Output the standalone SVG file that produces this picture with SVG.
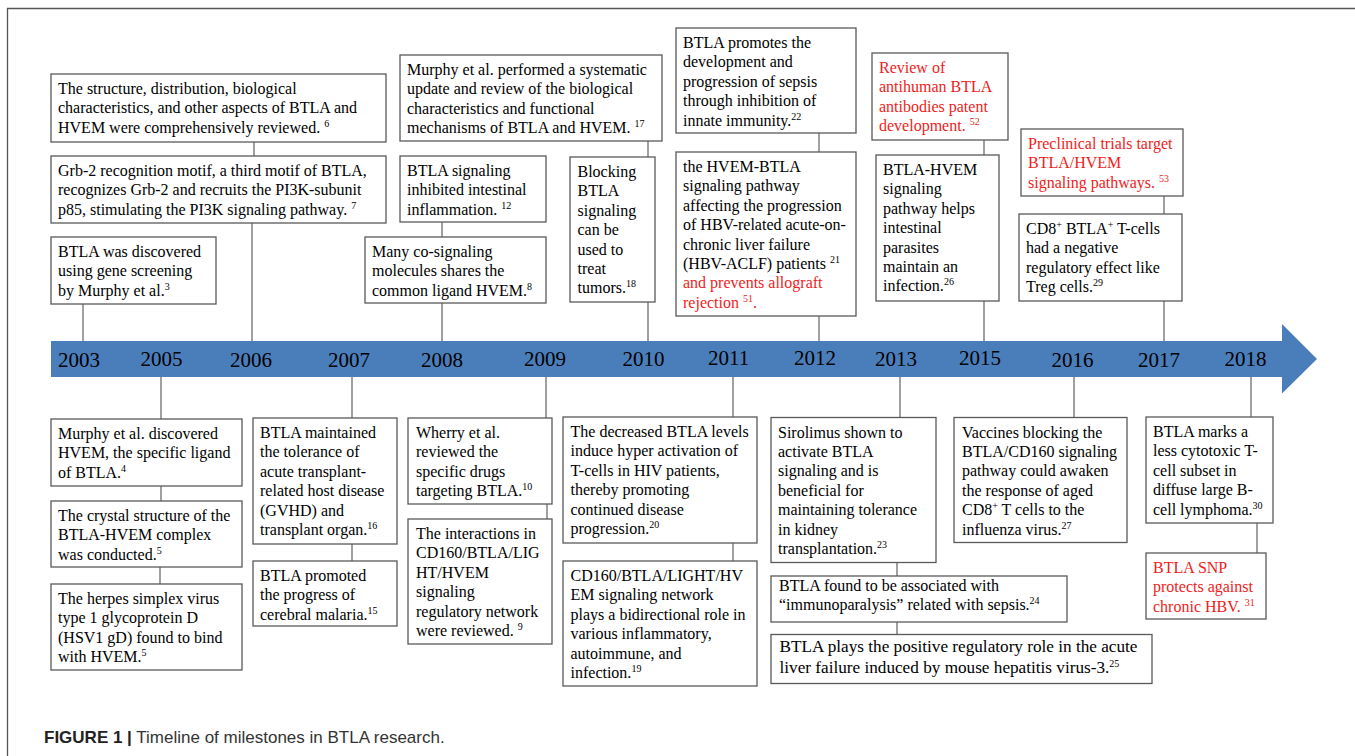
<svg xmlns="http://www.w3.org/2000/svg" width="1355" height="756" viewBox="0 0 1355 756">
<style>
.bx{fill:#fff;stroke:#595959;stroke-width:1.3}
.t{font-family:"Liberation Serif","Times New Roman",serif;font-size:16px;fill:#000}
.r{fill:#f01c1c}
.s{font-size:10px}
.yr{font-family:"Liberation Serif","Times New Roman",serif;font-size:21px;fill:#000}
.c{stroke:#6e6e6e;stroke-width:1.3;fill:none}
.cap{font-family:"Liberation Sans",Arial,sans-serif;font-size:17px;fill:#333}
</style>
<path d="M7.5,756 V8.5 H1355" fill="none" stroke="#555" stroke-width="1.3"/>
<g id="timeline">
<polygon points="51,341 1282,341 1282,324 1317,359 1282,393.5 1282,377 51,377" fill="#4A7EBB"/>
<text class="yr" x="58" y="366.5">2003</text>
<text class="yr" x="140.5" y="365.5">2005</text>
<text class="yr" x="230" y="366.5">2006</text>
<text class="yr" x="328" y="366.5">2007</text>
<text class="yr" x="421" y="366.5">2008</text>
<text class="yr" x="524" y="365.5">2009</text>
<text class="yr" x="622.5" y="365.5">2010</text>
<text class="yr" x="708" y="364.5">2011</text>
<text class="yr" x="794" y="364.5">2012</text>
<text class="yr" x="875" y="365.5">2013</text>
<text class="yr" x="959" y="364.5">2015</text>
<text class="yr" x="1051.5" y="366.5">2016</text>
<text class="yr" x="1138" y="366.5">2017</text>
<text class="yr" x="1224.5" y="365.5">2018</text>
</g>
<g id="connectors">
<path class="c" d="M83,304V341 M254,142V156 M252,223V341 M442,222V237 M442,303V341 M648,141V157 M648,302V341 M819,133V152 M819,316V341 M984,140V155 M984,301V341 M1164,196V214 M1164,301V341"/>
<path class="c" d="M161,377V419 M161,486V501 M160,567V584 M352,377V418 M352,544V561 M546,377V418 M547,504V519 M733,377V417 M733,543V561 M900,377V417.5 M897,563V576 M897,622V634.5 M1074,377V417.5 M1251,377V417 M1257,523V553"/>
</g>
<g id="n2006a"><rect class="bx" x="51" y="74" width="335" height="68"/>
<text class="t"><tspan x="58" y="94">The structure, distribution, biological</tspan><tspan x="58" y="113.4">characteristics, and other aspects of BTLA and</tspan><tspan x="58" y="132.8">HVEM were comprehensively reviewed. <tspan class="s" dy="-6">6</tspan></tspan></text></g>
<g id="n2006b"><rect class="bx" x="51" y="156" width="335" height="67"/>
<text class="t"><tspan x="58" y="176">Grb-2 recognition motif, a third motif of BTLA,</tspan><tspan x="58" y="195.4">recognizes Grb-2 and recruits the PI3K-subunit</tspan><tspan x="58" y="214.8">p85, stimulating the PI3K signaling pathway. <tspan class="s" dy="-6">7</tspan></tspan></text></g>
<g id="n2003"><rect class="bx" x="51" y="237" width="165" height="67"/>
<text class="t"><tspan x="58" y="257">BTLA was discovered</tspan><tspan x="58" y="276.4">using gene screening</tspan><tspan x="58" y="295.8">by Murphy et al.<tspan class="s" dy="-6">3</tspan></tspan></text></g>
<g id="n2010a"><rect class="bx" x="400" y="55" width="262" height="86"/>
<text class="t"><tspan x="407" y="75">Murphy et al. performed a systematic</tspan><tspan x="407" y="94.4">update and review of the biological</tspan><tspan x="407" y="113.8">characteristics and functional</tspan><tspan x="407" y="133.2">mechanisms of BTLA and HVEM. <tspan class="s" dy="-6">17</tspan></tspan></text></g>
<g id="n2008a"><rect class="bx" x="400" y="156" width="146" height="66"/>
<text class="t"><tspan x="407" y="176">BTLA signaling</tspan><tspan x="407" y="195.4">inhibited intestinal</tspan><tspan x="407" y="214.8">inflammation. <tspan class="s" dy="-6">12</tspan></tspan></text></g>
<g id="n2008b"><rect class="bx" x="365" y="237" width="181" height="66"/>
<text class="t"><tspan x="372" y="257">Many co-signaling</tspan><tspan x="372" y="276.4">molecules shares the</tspan><tspan x="372" y="295.8">common ligand HVEM.<tspan class="s" dy="-6">8</tspan></tspan></text></g>
<g id="n2010b"><rect class="bx" x="570" y="157" width="85" height="145"/>
<text class="t"><tspan x="577.5" y="177">Blocking</tspan><tspan x="577.5" y="196.4">BTLA</tspan><tspan x="577.5" y="215.8">signaling</tspan><tspan x="577.5" y="235.2">can be</tspan><tspan x="577.5" y="254.6">used to</tspan><tspan x="577.5" y="274">treat</tspan><tspan x="577.5" y="293.4">tumors.<tspan class="s" dy="-6">18</tspan></tspan></text></g>
<g id="n2012a"><rect class="bx" x="676" y="28" width="180" height="105"/>
<text class="t"><tspan x="683" y="48">BTLA promotes the</tspan><tspan x="683" y="67.4">development and</tspan><tspan x="683" y="86.8">progression of sepsis</tspan><tspan x="683" y="106.2">through inhibition of</tspan><tspan x="683" y="125.6">innate immunity.<tspan class="s" dy="-6">22</tspan></tspan></text></g>
<g id="n2012b"><rect class="bx" x="676" y="152" width="180" height="164"/>
<text class="t"><tspan x="683" y="172">the HVEM-BTLA</tspan><tspan x="683" y="191.4">signaling pathway</tspan><tspan x="683" y="210.8">affecting the progression</tspan><tspan x="683" y="230.2">of HBV-related acute-on-</tspan><tspan x="683" y="249.6">chronic liver failure</tspan><tspan x="683" y="269">(HBV-ACLF) patients <tspan class="s" dy="-6">21</tspan></tspan><tspan class="r" x="683" y="288.4">and prevents allograft</tspan><tspan class="r" x="683" y="307.8">rejection <tspan class="s" dy="-6">51</tspan><tspan dy="6">.</tspan></tspan></text></g>
<g id="n2015a"><rect class="bx" x="872" y="53" width="136" height="87"/>
<text class="t r"><tspan x="879" y="73">Review of</tspan><tspan x="879" y="92.4">antihuman BTLA</tspan><tspan x="879" y="111.8">antibodies patent</tspan><tspan x="879" y="131.2">development. <tspan class="s" dy="-6">52</tspan></tspan></text></g>
<g id="n2015b"><rect class="bx" x="876" y="155" width="123" height="146"/>
<text class="t"><tspan x="883" y="175">BTLA-HVEM</tspan><tspan x="883" y="194.4">signaling</tspan><tspan x="883" y="213.8">pathway helps</tspan><tspan x="883" y="233.2">intestinal</tspan><tspan x="883" y="252.6">parasites</tspan><tspan x="883" y="272">maintain an</tspan><tspan x="883" y="291.4">infection.<tspan class="s" dy="-6">26</tspan></tspan></text></g>
<g id="n2017a"><rect class="bx" x="1021" y="129" width="162" height="67"/>
<text class="t r"><tspan x="1028" y="149">Preclinical trials target</tspan><tspan x="1028" y="168.4">BTLA/HVEM</tspan><tspan x="1028" y="187.8">signaling pathways.  <tspan class="s" dy="-6">53</tspan></tspan></text></g>
<g id="n2017b"><rect class="bx" x="1019" y="214" width="163" height="87"/>
<text class="t"><tspan x="1026" y="234">CD8<tspan class="s" dy="-6">+</tspan><tspan dy="6"> BTLA</tspan><tspan class="s" dy="-6">+</tspan><tspan dy="6"> T-cells</tspan></tspan><tspan x="1026" y="253.4">had a negative</tspan><tspan x="1026" y="272.8">regulatory effect like</tspan><tspan x="1026" y="292.2">Treg cells.<tspan class="s" dy="-6">29</tspan></tspan></text></g>
<g id="n2005a"><rect class="bx" x="51" y="419" width="191" height="67"/>
<text class="t"><tspan x="58" y="439">Murphy et al. discovered</tspan><tspan x="58" y="458.4">HVEM, the specific ligand</tspan><tspan x="58" y="477.8">of BTLA.<tspan class="s" dy="-6">4</tspan></tspan></text></g>
<g id="n2005b"><rect class="bx" x="51" y="501" width="191" height="66"/>
<text class="t"><tspan x="58" y="521">The crystal structure of the</tspan><tspan x="58" y="540.4">BTLA-HVEM complex</tspan><tspan x="58" y="559.8">was conducted.<tspan class="s" dy="-6">5</tspan></tspan></text></g>
<g id="n2005c"><rect class="bx" x="51" y="584" width="191" height="86"/>
<text class="t"><tspan x="58" y="604">The herpes simplex virus</tspan><tspan x="58" y="623.4">type 1 glycoprotein D</tspan><tspan x="58" y="642.8">(HSV1 gD) found to bind</tspan><tspan x="58" y="662.2">with HVEM.<tspan class="s" dy="-6">5</tspan></tspan></text></g>
<g id="n2007a"><rect class="bx" x="253" y="418" width="144" height="126"/>
<text class="t"><tspan x="260" y="438">BTLA maintained</tspan><tspan x="260" y="457.4">the tolerance of</tspan><tspan x="260" y="476.8">acute transplant-</tspan><tspan x="260" y="496.2">related host disease</tspan><tspan x="260" y="515.6">(GVHD) and</tspan><tspan x="260" y="535">transplant organ.<tspan class="s" dy="-6">16</tspan></tspan></text></g>
<g id="n2007b"><rect class="bx" x="253" y="561" width="144" height="65"/>
<text class="t"><tspan x="260" y="581">BTLA promoted</tspan><tspan x="260" y="600.4">the progress of</tspan><tspan x="260" y="619.8">cerebral malaria.<tspan class="s" dy="-6">15</tspan></tspan></text></g>
<g id="n2009a"><rect class="bx" x="408" y="418" width="144" height="86"/>
<text class="t"><tspan x="416" y="438">Wherry et al.</tspan><tspan x="416" y="457.4">reviewed the</tspan><tspan x="416" y="476.8">specific drugs</tspan><tspan x="416" y="496.2">targeting BTLA.<tspan class="s" dy="-6">10</tspan></tspan></text></g>
<g id="n2009b"><rect class="bx" x="408" y="519" width="144" height="125"/>
<text class="t"><tspan x="416" y="539">The interactions in</tspan><tspan x="416" y="558.4">CD160/BTLA/LIG</tspan><tspan x="416" y="577.8">HT/HVEM</tspan><tspan x="416" y="597.2">signaling</tspan><tspan x="416" y="616.6">regulatory network</tspan><tspan x="416" y="636">were reviewed. <tspan class="s" dy="-6">9</tspan></tspan></text></g>
<g id="n2011a"><rect class="bx" x="563" y="417" width="194" height="126"/>
<text class="t"><tspan x="570.5" y="437">The decreased BTLA levels</tspan><tspan x="570.5" y="456.4">induce hyper activation of</tspan><tspan x="570.5" y="475.8">T-cells in HIV patients,</tspan><tspan x="570.5" y="495.2">thereby promoting</tspan><tspan x="570.5" y="514.6">continued disease</tspan><tspan x="570.5" y="534">progression.<tspan class="s" dy="-6">20</tspan></tspan></text></g>
<g id="n2011b"><rect class="bx" x="563" y="561" width="194" height="125"/>
<text class="t"><tspan x="570.5" y="581">CD160/BTLA/LIGHT/HV</tspan><tspan x="570.5" y="600.4">EM signaling network</tspan><tspan x="570.5" y="619.8">plays a bidirectional role in</tspan><tspan x="570.5" y="639.2">various inflammatory,</tspan><tspan x="570.5" y="658.6">autoimmune, and</tspan><tspan x="570.5" y="678">infection.<tspan class="s" dy="-6">19</tspan></tspan></text></g>
<g id="n2013a"><rect class="bx" x="771" y="417.5" width="165" height="145"/>
<text class="t"><tspan x="778" y="437.5">Sirolimus shown to</tspan><tspan x="778" y="456.9">activate BTLA</tspan><tspan x="778" y="476.3">signaling and is</tspan><tspan x="778" y="495.7">beneficial for</tspan><tspan x="778" y="515.1">maintaining tolerance</tspan><tspan x="778" y="534.5">in kidney</tspan><tspan x="778" y="553.9">transplantation.<tspan class="s" dy="-6">23</tspan></tspan></text></g>
<g id="n2013b"><rect class="bx" x="771" y="576" width="296" height="46"/>
<text class="t"><tspan x="779" y="591">BTLA found to be associated with</tspan><tspan x="779" y="610.4">“immunoparalysis” related with sepsis.<tspan class="s" dy="-6">24</tspan></tspan></text></g>
<g id="n2013c"><rect class="bx" x="771" y="634.5" width="381" height="49"/>
<text class="t" style="font-size:17.2px"><tspan x="779.5" y="652">BTLA plays the positive regulatory role in the acute</tspan><tspan x="779.5" y="672.5">liver failure induced by mouse hepatitis virus-3.<tspan class="s" dy="-6">25</tspan></tspan></text></g>
<g id="n2016"><rect class="bx" x="954" y="417.5" width="173" height="125"/>
<text class="t"><tspan x="962" y="437.5">Vaccines blocking the</tspan><tspan x="962" y="456.9">BTLA/CD160 signaling</tspan><tspan x="962" y="476.3">pathway could awaken</tspan><tspan x="962" y="495.7">the response of aged</tspan><tspan x="962" y="515.1">CD8<tspan class="s" dy="-6">+</tspan><tspan dy="6"> T cells to the</tspan></tspan><tspan x="962" y="534.5">influenza virus.<tspan class="s" dy="-6">27</tspan></tspan></text></g>
<g id="n2018a"><rect class="bx" x="1146" y="417" width="127" height="106"/>
<text class="t"><tspan x="1153" y="437">BTLA marks a</tspan><tspan x="1153" y="456.4">less cytotoxic T-</tspan><tspan x="1153" y="475.8">cell subset in</tspan><tspan x="1153" y="495.2">diffuse large B-</tspan><tspan x="1153" y="514.6">cell lymphoma.<tspan class="s" dy="-6">30</tspan></tspan></text></g>
<g id="n2018b"><rect class="bx" x="1146" y="553" width="120" height="66"/>
<text class="t r"><tspan x="1153" y="573">BTLA SNP</tspan><tspan x="1153" y="592.4">protects against</tspan><tspan x="1153" y="611.8">chronic HBV. <tspan class="s" dy="-6">31</tspan></tspan></text></g>
<g id="caption"><text class="cap" x="44" y="743"><tspan font-weight="bold" fill="#222">FIGURE 1 |</tspan> Timeline of milestones in BTLA research.</text></g>
</svg>
